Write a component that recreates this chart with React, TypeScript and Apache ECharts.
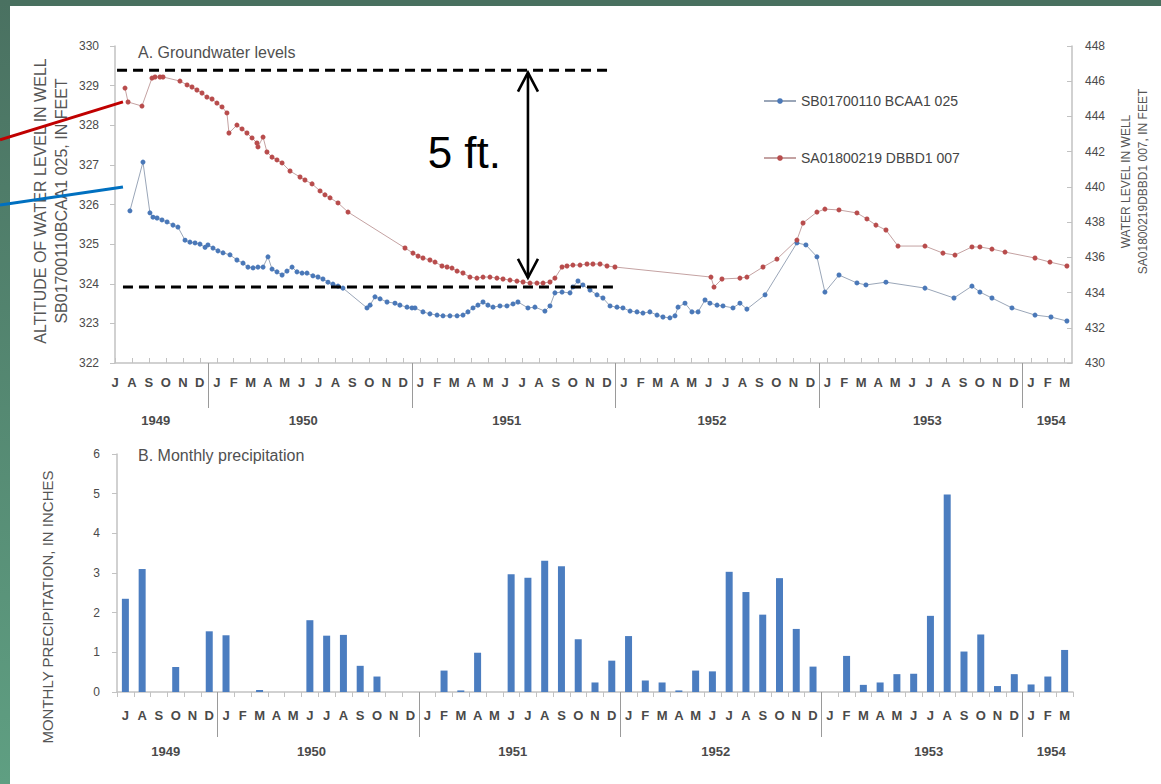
import React, { useEffect, useRef } from "react";
import * as echarts from "echarts";

// ---- Month / year scale (x = months since 1 July 1949) ----
const MONTH_LABELS = [
  "J", "A", "S", "O", "N", "D",
  "J", "F", "M", "A", "M", "J", "J", "A", "S", "O", "N", "D",
  "J", "F", "M", "A", "M", "J", "J", "A", "S", "O", "N", "D",
  "J", "F", "M", "A", "M", "J", "J", "A", "S", "O", "N", "D",
  "J", "F", "M", "A", "M", "J", "J", "A", "S", "O", "N", "D",
  "J", "F", "M",
];
const MONTH_TICKS = MONTH_LABELS.map((_, i) => i);
const YEARS = ["1949", "1950", "1951", "1952", "1953", "1954"];
const YEAR_CENTERS = [2.4, 11.1, 23.1, 35.2, 47.9, 55.2];
const YEAR_BREAKS = [5.5, 17.5, 29.5, 41.5, 53.5];

// ---- Well SB01700110 BCAA1 025 (left axis, ft) ----
const SB_NAME = "SB01700110 BCAA1 025";
const SB_TIME = [
  0.88, 1.65, 2.06, 2.24, 2.48, 2.77, 3.07, 3.42, 3.71, 4.13, 4.42, 4.72, 5.01, 5.31, 5.48, 5.78,
  6.07, 6.37, 6.78, 7.19, 7.55, 7.84, 8.14, 8.43, 8.73, 9.02, 9.26, 9.55, 9.85, 10.14, 10.44, 10.73,
  11.03, 11.32, 11.67, 11.97, 12.26, 12.56, 12.85, 13.15, 13.44, 14.86, 15.04, 15.33, 15.63, 16.04,
  16.51, 16.8, 17.22, 17.51, 17.69, 18.16, 18.57, 18.99, 19.34, 19.75, 20.17, 20.52, 20.81, 21.11,
  21.4, 21.7, 21.99, 22.29, 22.7, 23.11, 23.47, 23.76, 24.35, 24.76, 25.35, 25.65, 25.94, 26.36,
  26.83, 27.0, 27.3, 27.59, 28.01, 28.42, 28.77, 29.19, 29.6, 29.95, 30.37, 30.78, 31.13, 31.54,
  31.96, 32.31, 32.72, 33.02, 33.2, 33.61, 34.02, 34.38, 34.79, 35.08, 35.5, 35.85, 36.44, 36.85,
  37.26, 38.33, 40.21, 40.74, 41.39, 41.86, 42.69, 43.75, 44.28, 45.46, 47.76, 49.47, 50.53, 51.0,
  51.71, 52.89, 54.25, 55.19, 56.13,
];
const SB_LEVEL = [
  325.84, 327.07, 325.79, 325.68, 325.66, 325.61, 325.56, 325.48, 325.43, 325.1, 325.05, 325.03,
  325.0, 324.92, 324.98, 324.9, 324.83, 324.78, 324.73, 324.6, 324.52, 324.42, 324.4, 324.42,
  324.42, 324.68, 324.37, 324.3, 324.22, 324.32, 324.42, 324.3, 324.27, 324.27, 324.2, 324.17,
  324.12, 324.04, 323.99, 323.94, 323.89, 323.39, 323.46, 323.67, 323.62, 323.54, 323.51, 323.46,
  323.41, 323.39, 323.39, 323.29, 323.24, 323.21, 323.19, 323.19, 323.19, 323.21, 323.29, 323.39,
  323.46, 323.54, 323.46, 323.41, 323.44, 323.44, 323.49, 323.54, 323.39, 323.41, 323.31, 323.44,
  323.77, 323.79, 323.77, 323.92, 324.07, 323.97, 323.84, 323.72, 323.64, 323.44, 323.41, 323.39,
  323.31, 323.29, 323.26, 323.29, 323.21, 323.16, 323.14, 323.19, 323.41, 323.51, 323.29, 323.29,
  323.59, 323.51, 323.46, 323.44, 323.39, 323.51, 323.36, 323.72, 325.03, 324.98, 324.68, 323.79,
  324.22, 324.02, 323.97, 324.04, 323.89, 323.64, 323.94, 323.79, 323.64, 323.39, 323.21, 323.16,
  323.06,
];

// ---- Well SA01800219 DBBD1 007 (right axis, ft) ----
const SA_NAME = "SA01800219 DBBD1 007";
const SA_TIME = [
  0.59, 0.77, 1.59, 2.18, 2.36, 2.65, 2.83, 3.83, 4.25, 4.54, 4.83, 5.13, 5.42, 5.72, 6.01, 6.31,
  6.6, 6.72, 7.19, 7.49, 7.78, 8.08, 8.37, 8.43, 8.73, 8.96, 9.26, 9.55, 9.85, 10.32, 10.91, 11.2,
  11.62, 12.09, 12.38, 12.68, 13.15, 13.74, 17.1, 17.57, 17.87, 18.16, 18.57, 18.87, 19.28, 19.58,
  19.87, 20.17, 20.52, 20.93, 21.34, 21.7, 22.11, 22.52, 22.88, 23.29, 23.7, 24.06, 24.47, 24.88,
  25.24, 25.65, 25.94, 26.36, 26.65, 27.0, 27.42, 27.83, 28.18, 28.6, 29.01, 29.48, 35.14, 35.32,
  35.79, 36.85, 37.26, 38.21, 39.03, 40.21, 40.57, 41.39, 41.86, 42.69, 43.75, 44.34, 44.87, 45.46,
  46.17, 47.76, 48.82, 49.53, 50.53, 51.0, 51.71, 52.48, 54.25, 55.13, 56.13,
];
const SA_LEVEL = [
  445.61, 444.82, 444.59, 446.18, 446.24, 446.24, 446.24, 446.01, 445.79, 445.67, 445.5, 445.33,
  445.1, 444.99, 444.76, 444.54, 444.2, 443.06, 443.51, 443.29, 443.06, 442.78, 442.49, 442.27,
  442.83, 441.98, 441.69, 441.53, 441.36, 440.9, 440.56, 440.39, 440.17, 439.77, 439.55, 439.38,
  439.09, 438.57, 436.53, 436.24, 436.07, 435.96, 435.85, 435.73, 435.51, 435.45, 435.39, 435.22,
  435.11, 434.88, 434.82, 434.88, 434.88, 434.82, 434.77, 434.71, 434.65, 434.6, 434.54, 434.54,
  434.54, 434.6, 434.82, 435.45, 435.51, 435.56, 435.56, 435.62, 435.62, 435.62, 435.51, 435.45,
  434.88, 434.31, 434.77, 434.82, 434.88, 435.45, 435.9, 436.98, 437.95, 438.57, 438.74, 438.69,
  438.52, 438.18, 437.83, 437.55, 436.64, 436.64, 436.24, 436.13, 436.59, 436.59, 436.47, 436.3,
  435.96, 435.73, 435.51,
];

// ---- Monthly precipitation, inches (Jul 1949 - Mar 1954) ----
const PRECIP = [
  2.35, 3.1, 0, 0.63, 0, 1.53,
  1.43, 0, 0.05, 0, 0, 1.81, 1.42, 1.44, 0.66, 0.39, 0, 0,
  0, 0.54, 0.04, 0.99, 0, 2.97, 2.88, 3.31, 3.17, 1.33, 0.24, 0.79,
  1.41, 0.29, 0.24, 0.04, 0.54, 0.52, 3.03, 2.52, 1.95, 2.87, 1.59, 0.64,
  0, 0.91, 0.18, 0.24, 0.45, 0.46, 1.92, 4.98, 1.02, 1.45, 0.15, 0.45,
  0.19, 0.39, 1.06,
];

// ---- "5 ft." drawdown note, in (month, left-axis ft) ----
const NOTE_HIGH = 329.39;
const NOTE_LOW = 323.92;
const NOTE_HIGH_SPAN = [0.12, 29.07];
const NOTE_LOW_SPAN = [0.47, 29.36];
const NOTE_ARROW = { month: 24.35, from: 329.33, to: 324.15 };
const NOTE_TEXT = { month: 20.6, level: 327.32, text: "5 ft." };
const POINTER_SA = [[-6.78, 327.63], [0.47, 328.59]];
const POINTER_SB = [[-6.78, 325.99], [0.47, 326.44]];

const FONT = "'Liberation Sans', Arial, sans-serif";
const AXIS = "#c2c2c2";
const TEXT = "#444";

function nearestIndex(list: number[], v: number) {
  let best = 0;
  for (let i = 1; i < list.length; i++) {
    if (Math.abs(list[i] - v) < Math.abs(list[best] - v)) best = i;
  }
  return best;
}

function yearAxis(gridIndex: number, min: number, max: number) {
  return {
    gridIndex,
    type: "value",
    position: "bottom",
    min,
    max,
    axisLine: { show: false, onZero: false },
    splitLine: { show: false },
    axisTick: { show: true, customValues: YEAR_BREAKS, length: 45, lineStyle: { color: "#9a9a9a", width: 1 } },
    axisLabel: {
      customValues: YEAR_CENTERS,
      formatter: (v: number) => YEARS[nearestIndex(YEAR_CENTERS, v)],
      margin: gridIndex === 0 ? 51 : 53,
      fontSize: 13,
      fontWeight: "bold",
      color: "#4a4a4a",
      fontFamily: FONT,
    },
  };
}

function buildOption() {
  return {
    animation: false,
    backgroundColor: "transparent",
    textStyle: { fontFamily: FONT },
    title: [
      {
        text: "A. Groundwater levels",
        left: 138,
        top: 44,
        padding: 0,
        textStyle: { fontSize: 16, fontWeight: "normal", color: "#505050", fontFamily: FONT },
      },
      {
        text: "B. Monthly precipitation",
        left: 138,
        top: 447,
        padding: 0,
        textStyle: { fontSize: 16, fontWeight: "normal", color: "#505050", fontFamily: FONT },
      },
    ],
    legend: {
      orient: "vertical",
      left: 763,
      top: 94,
      padding: 0,
      itemWidth: 32,
      itemHeight: 7,
      itemGap: 43,
      data: [SB_NAME, SA_NAME],
      textStyle: { fontSize: 14, color: TEXT, fontFamily: FONT },
    },
    grid: [
      { left: 115, right: 89, top: 46, height: 317 },
      { left: 117, right: 88, top: 454, height: 238 },
    ],
    xAxis: [
      {
        gridIndex: 0,
        type: "value",
        min: 0,
        max: 56.43,
        axisLine: { show: true, onZero: false, lineStyle: { color: AXIS, width: 1.5 } },
        splitLine: { show: false },
        axisTick: { show: true, customValues: MONTH_TICKS, inside: true, length: 5, lineStyle: { color: AXIS } },
        axisLabel: {
          customValues: MONTH_TICKS,
          formatter: (v: number) => MONTH_LABELS[Math.round(v)],
          margin: 13,
          fontSize: 13,
          fontWeight: "bold",
          color: "#4a4a4a",
          fontFamily: FONT,
        },
      },
      yearAxis(0, 0, 56.43),
      {
        gridIndex: 1,
        type: "category",
        data: MONTH_LABELS,
        boundaryGap: true,
        axisLine: { show: true, onZero: false, lineStyle: { color: AXIS, width: 1.5 } },
        axisTick: { show: true, length: 5, lineStyle: { color: AXIS } },
        axisLabel: {
          interval: 0,
          formatter: (_v: string, i: number) => MONTH_LABELS[i],
          margin: 17,
          fontSize: 13,
          fontWeight: "bold",
          color: "#4a4a4a",
          fontFamily: FONT,
        },
        splitLine: { show: false },
      },
      yearAxis(1, -0.5, 56.5),
    ],
    yAxis: [
      {
        gridIndex: 0,
        type: "value",
        position: "left",
        min: 322,
        max: 330,
        interval: 1,
        axisLine: { show: true, onZero: false, lineStyle: { color: AXIS, width: 1.5 } },
        axisTick: { show: true, length: 5, lineStyle: { color: AXIS } },
        axisLabel: { margin: 16, fontSize: 12, color: "#4a4a4a", fontFamily: FONT },
        splitLine: { show: false },
        name: "ALTITUDE OF WATER LEVEL IN WELL\nSB01700110BCAA1 025, IN FEET",
        nameLocation: "middle",
        nameRotate: 90,
        nameGap: 43,
        nameMoveOverlap: false,
        nameTextStyle: { fontSize: 16, lineHeight: 21, color: "#555", fontFamily: FONT, padding: [0, 0, 0, 7] },
      },
      {
        gridIndex: 0,
        type: "value",
        position: "right",
        min: 430,
        max: 448,
        interval: 2,
        axisLine: { show: true, onZero: false, lineStyle: { color: AXIS, width: 1.5 } },
        axisTick: { show: true, inside: true, length: 5, lineStyle: { color: AXIS } },
        axisLabel: { margin: 13, fontSize: 12, color: "#4a4a4a", fontFamily: FONT },
        splitLine: { show: false },
        name: "WATER LEVEL IN WELL\nSA01800219DBBD1 007, IN FEET",
        nameLocation: "middle",
        nameRotate: 90,
        nameGap: 45,
        nameMoveOverlap: false,
        nameTextStyle: { fontSize: 12, lineHeight: 17, color: "#555", fontFamily: FONT, padding: [0, 0, 0, 46] },
      },
      {
        gridIndex: 1,
        type: "value",
        position: "left",
        min: 0,
        max: 6,
        interval: 1,
        axisLine: { show: true, onZero: false, lineStyle: { color: AXIS, width: 1.5 } },
        axisTick: { show: true, length: 5, lineStyle: { color: AXIS } },
        axisLabel: { margin: 17, fontSize: 12, color: "#4a4a4a", fontFamily: FONT },
        splitLine: { show: false },
        name: "MONTHLY PRECIPITATION, IN INCHES",
        nameLocation: "middle",
        nameRotate: 90,
        nameGap: 62,
        nameMoveOverlap: false,
        nameTextStyle: { fontSize: 15, color: "#555", fontFamily: FONT, padding: [0, 68, 0, 0] },
      },
    ],
    series: [
      {
        name: SB_NAME,
        type: "line",
        xAxisIndex: 0,
        yAxisIndex: 0,
        data: SB_TIME.map((t, i) => [t, SB_LEVEL[i]]),
        symbol: "circle",
        symbolSize: 5,
        itemStyle: { color: "#4a78b8" },
        lineStyle: { color: "#9aa6b8", width: 1 },
        z: 3,
      },
      {
        name: SA_NAME,
        type: "line",
        xAxisIndex: 0,
        yAxisIndex: 1,
        data: SA_TIME.map((t, i) => [t, SA_LEVEL[i]]),
        symbol: "circle",
        symbolSize: 5,
        itemStyle: { color: "#b84c4c" },
        lineStyle: { color: "#c4a2a2", width: 1 },
        z: 3,
      },
      {
        name: "Monthly precipitation",
        type: "bar",
        xAxisIndex: 2,
        yAxisIndex: 2,
        data: PRECIP,
        barWidth: 7,
        itemStyle: { color: "#4b7dc0" },
      },
    ],
  };
}

function buildNotes(chart: echarts.ECharts) {
  const px = (m: number, v: number) =>
    chart.convertToPixel({ xAxisIndex: 0, yAxisIndex: 0 }, [m, v]) as number[];
  const hA = px(NOTE_HIGH_SPAN[0], NOTE_HIGH);
  const hB = px(NOTE_HIGH_SPAN[1], NOTE_HIGH);
  const lA = px(NOTE_LOW_SPAN[0], NOTE_LOW);
  const lB = px(NOTE_LOW_SPAN[1], NOTE_LOW);
  const top = px(NOTE_ARROW.month, NOTE_ARROW.from);
  const bot = px(NOTE_ARROW.month, NOTE_ARROW.to);
  const label = px(NOTE_TEXT.month, NOTE_TEXT.level);
  const saA = px(POINTER_SA[0][0], POINTER_SA[0][1]);
  const saB = px(POINTER_SA[1][0], POINTER_SA[1][1]);
  const sbA = px(POINTER_SB[0][0], POINTER_SB[0][1]);
  const sbB = px(POINTER_SB[1][0], POINTER_SB[1][1]);
  const dashed = { stroke: "#000", lineWidth: 3, lineDash: [10, 6] };
  const solid = { stroke: "#000", lineWidth: 2.6, fill: "none" };
  return [
    { type: "line", z: 100, shape: { x1: hA[0], y1: hA[1], x2: hB[0], y2: hB[1] }, style: dashed },
    { type: "line", z: 100, shape: { x1: lA[0], y1: lA[1], x2: lB[0], y2: lB[1] }, style: dashed },
    { type: "line", z: 100, shape: { x1: top[0], y1: top[1], x2: bot[0], y2: bot[1] }, style: solid },
    {
      type: "polyline",
      z: 100,
      shape: { points: [[top[0] - 10, top[1] + 19], [top[0], top[1]], [top[0] + 10, top[1] + 19]] },
      style: solid,
    },
    {
      type: "polyline",
      z: 100,
      shape: { points: [[bot[0] - 10, bot[1] - 19], [bot[0], bot[1]], [bot[0] + 10, bot[1] - 19]] },
      style: solid,
    },
    {
      type: "text",
      z: 100,
      x: label[0],
      y: label[1],
      style: {
        text: NOTE_TEXT.text,
        fontSize: 44,
        fontFamily: FONT,
        fill: "#000",
        align: "center",
        verticalAlign: "middle",
      },
    },
    {
      type: "line",
      z: 100,
      shape: { x1: saA[0], y1: saA[1], x2: saB[0], y2: saB[1] },
      style: { stroke: "#c00000", lineWidth: 3 },
    },
    {
      type: "line",
      z: 100,
      shape: { x1: sbA[0], y1: sbA[1], x2: sbB[0], y2: sbB[1] },
      style: { stroke: "#0070c0", lineWidth: 3 },
    },
  ];
}

export default function App() {
  const ref = useRef<HTMLDivElement>(null);
  useEffect(() => {
    document.body.style.margin = "0";
    const chart = echarts.init(ref.current as HTMLDivElement, null, { renderer: "svg" });
    chart.setOption(buildOption() as any);
    chart.setOption({ graphic: buildNotes(chart) } as any);
    return () => chart.dispose();
  }, []);
  return (
    <div style={{ position: "relative", width: 1161, height: 784, background: "#49705f", overflow: "hidden" }}>
      <div
        style={{
          position: "absolute",
          left: 0,
          top: 0,
          width: 10,
          height: 784,
          background: "linear-gradient(#4a7161, #5f9f82)",
        }}
      />
      <div style={{ position: "absolute", left: 10, top: 6, right: 0, bottom: 0, background: "#ffffff" }} />
      <div ref={ref} style={{ position: "absolute", left: 0, top: 0, width: 1161, height: 784 }} />
    </div>
  );
}
